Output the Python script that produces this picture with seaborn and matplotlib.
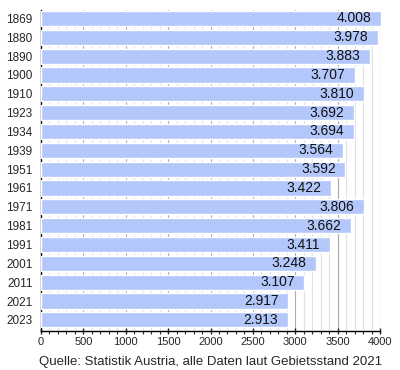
import matplotlib
matplotlib.use("Agg")
import matplotlib.pyplot as plt
from matplotlib.ticker import MultipleLocator
import pandas as pd
import seaborn as sns

years = ["1869", "1880", "1890", "1900", "1910", "1923", "1934", "1939", "1951",
         "1961", "1971", "1981", "1991", "2001", "2011", "2021", "2023"]
population = [4008, 3978, 3883, 3707, 3810, 3692, 3694, 3564, 3592,
              3422, 3806, 3662, 3411, 3248, 3107, 2917, 2913]
source = "Quelle: Statistik Austria, alle Daten laut Gebietsstand 2021"

df = pd.DataFrame({"Jahr": years, "Einwohner": population})

sns.set_style("white")
plt.rcParams["font.family"] = ["Liberation Sans", "DejaVu Sans"]

fig = plt.figure(figsize=(4, 3.7), dpi=100)
ax = fig.add_axes([0.1025, 0.105, 0.8475, 0.868])

sns.barplot(data=df, x="Einwohner", y="Jahr", orient="h", color="#b3c7fb",
            saturation=1, width=0.8, ax=ax, zorder=3)
for p in ax.patches:
    p.set_clip_on(False)

for i, v in enumerate(population):
    ax.annotate(f"{v:,}".replace(",", "."), xy=(v, i), xytext=(-7, 0),
                textcoords="offset points", ha="right", va="center",
                fontsize=10, color="#111111", zorder=4, annotation_clip=False)

ax.set_xlim(0, 4000)
ax.set_ylim(16.6, -0.45)
ax.xaxis.set_major_locator(MultipleLocator(500))
ax.xaxis.set_minor_locator(MultipleLocator(100))
ax.grid(which="major", axis="x", color="#aaaaaa", linewidth=0.8, zorder=0)
ax.grid(which="minor", axis="x", color="#e2e2e2", linewidth=0.8, zorder=0)
ax.set_axisbelow(True)

for s in ["top", "right"]:
    ax.spines[s].set_visible(False)
ax.spines["left"].set_color("black")
ax.spines["bottom"].set_color("black")
ax.spines["left"].set_linewidth(1)
ax.spines["bottom"].set_linewidth(1)

ax.tick_params(axis="x", which="major", direction="inout", length=5, width=1,
               labelsize=8, pad=2, bottom=True)
ax.tick_params(axis="x", which="minor", direction="out", length=2.5, width=0.8,
               bottom=True)
ax.tick_params(axis="y", length=0, labelsize=8.5, pad=6)

ax.set_ylabel("")
ax.set_xlabel(source, fontsize=9.5, labelpad=6)

fig.savefig("out.png", dpi=100)
